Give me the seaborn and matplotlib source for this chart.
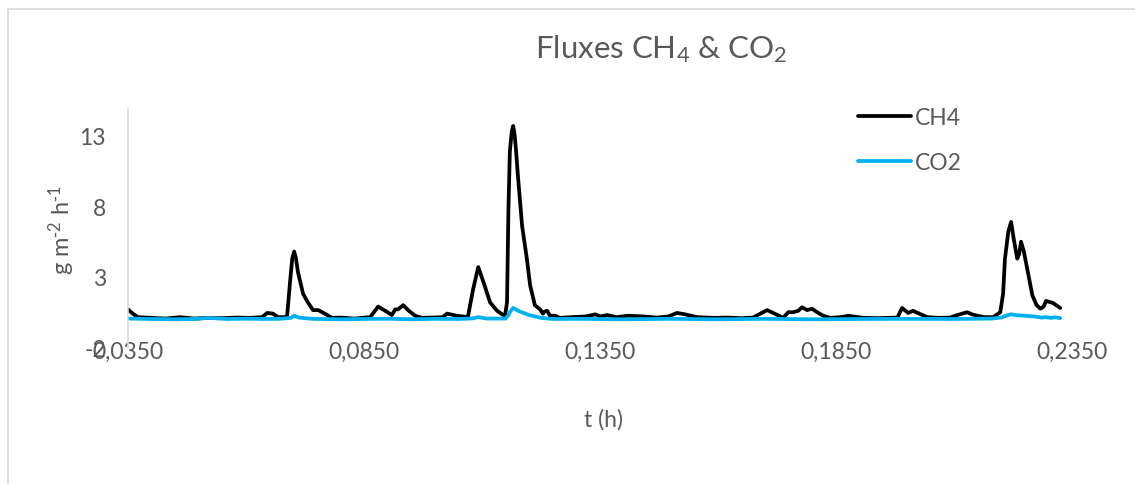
import matplotlib
matplotlib.use("Agg")
import matplotlib.pyplot as plt
from matplotlib.patches import Rectangle
from matplotlib.lines import Line2D
import seaborn as sns
import pandas as pd

# ---- data ----
ch4_t = [0.0350, 0.0360, 0.0371, 0.0400, 0.0430, 0.0460, 0.0490, 0.0520, 0.0550,
         0.0580, 0.0610, 0.0634, 0.0645, 0.0657, 0.0668, 0.0680, 0.0687, 0.0694,
         0.0698, 0.0702, 0.0706, 0.0710, 0.0716, 0.0721, 0.0731, 0.0742, 0.0753,
         0.0767, 0.0782, 0.0800, 0.0830, 0.0863, 0.0880, 0.0895, 0.0909, 0.0916,
         0.0922, 0.0933, 0.0945, 0.0958, 0.0973, 0.0995, 0.1017, 0.1026, 0.1047,
         0.1070, 0.1081, 0.1092, 0.1106, 0.1117, 0.1132, 0.1145, 0.1149, 0.1153,
         0.1156, 0.1159, 0.1163, 0.1166, 0.1169, 0.1172, 0.1176, 0.1185, 0.1195,
         0.1202, 0.1212, 0.1223, 0.1229, 0.1233, 0.1238, 0.1244, 0.1255, 0.1265,
         0.1290, 0.1320, 0.1340, 0.1350, 0.1365, 0.1385, 0.1410, 0.1441, 0.1470,
         0.1495, 0.1513, 0.1530, 0.1556, 0.1590, 0.1620, 0.1650, 0.1674, 0.1704,
         0.1720, 0.1738, 0.1749, 0.1759, 0.1770, 0.1778, 0.1789, 0.1799, 0.1810,
         0.1823, 0.1838, 0.1860, 0.1876, 0.1907, 0.1940, 0.1980, 0.1990, 0.2003,
         0.2013, 0.2043, 0.2070, 0.2092, 0.2107, 0.2128, 0.2138, 0.2149, 0.2165,
         0.2183, 0.2198, 0.2204, 0.2208, 0.2215, 0.2221, 0.2227, 0.2234, 0.2238,
         0.2242, 0.2248, 0.2255, 0.2266, 0.2275, 0.2283, 0.2290, 0.2295, 0.2310,
         0.2325]
ch4_flux = [0.70, 0.40, 0.15, 0.10, 0.05, 0.15, 0.05, 0.10, 0.08,
            0.12, 0.10, 0.15, 0.45, 0.40, 0.15, 0.15, 0.20, 2.90,
            4.30, 4.80, 4.30, 3.35, 2.50, 1.80, 1.20, 0.65, 0.65,
            0.40, 0.10, 0.12, 0.05, 0.15, 0.90, 0.60, 0.30, 0.70,
            0.70, 1.00, 0.60, 0.25, 0.10, 0.12, 0.15, 0.40, 0.25,
            0.15, 2.10, 3.70, 2.35, 1.20, 0.60, 0.30, 0.30, 1.20,
            7.80, 11.90, 13.30, 13.70, 13.10, 12.00, 10.20, 6.60, 4.30,
            2.40, 1.00, 0.70, 0.40, 0.55, 0.60, 0.25, 0.25, 0.10,
            0.15, 0.20, 0.35, 0.20, 0.30, 0.15, 0.25, 0.20, 0.12,
            0.20, 0.45, 0.35, 0.15, 0.10, 0.12, 0.08, 0.12, 0.65,
            0.40, 0.10, 0.50, 0.50, 0.60, 0.85, 0.65, 0.75, 0.50,
            0.25, 0.10, 0.15, 0.25, 0.10, 0.08, 0.12, 0.80, 0.45,
            0.60, 0.15, 0.10, 0.12, 0.30, 0.50, 0.35, 0.25, 0.15,
            0.15, 0.50, 1.80, 4.30, 6.20, 6.90, 5.60, 4.30, 4.60,
            5.50, 4.80, 3.60, 1.70, 1.00, 0.75, 0.90, 1.30, 1.15,
            0.80]

co2_t = [0.0350, 0.0400, 0.0450, 0.0500, 0.0520, 0.0560, 0.0600, 0.0640, 0.0670,
         0.0695, 0.0702, 0.0712, 0.0740, 0.0800, 0.0850, 0.0900, 0.0950, 0.1000,
         0.1050, 0.1080, 0.1092, 0.1110, 0.1150, 0.1156, 0.1160, 0.1166, 0.1180,
         0.1200, 0.1225, 0.1250, 0.1300, 0.1400, 0.1500, 0.1600, 0.1700, 0.1800,
         0.1900, 0.2000, 0.2100, 0.2180, 0.2200, 0.2210, 0.2221, 0.2235, 0.2250,
         0.2270, 0.2285, 0.2295, 0.2305, 0.2315, 0.2325]
co2_flux = [0.05, 0.02, 0.00, 0.03, 0.10, 0.02, 0.04, 0.02, 0.03,
            0.10, 0.25, 0.12, 0.03, 0.00, 0.02, 0.04, 0.00, 0.03,
            0.02, 0.06, 0.15, 0.05, 0.05, 0.30, 0.55, 0.80, 0.55,
            0.30, 0.10, 0.02, 0.03, 0.00, 0.03, 0.00, 0.03, 0.00,
            0.02, 0.03, 0.02, 0.05, 0.12, 0.25, 0.35, 0.28, 0.25,
            0.20, 0.12, 0.15, 0.10, 0.14, 0.08]

x_ticks = [0.035, 0.085, 0.135, 0.185, 0.235]
x_ticklabels = ["0,0350", "0,0850", "0,1350", "0,1850", "0,2350"]
y_ticks = [-2, 3, 8, 13]
y_ticklabels = ["-2", "3", "8", "13"]
series_names = ["CH4", "CO2"]
series_colors = ["#000000", "#00B0F0"]

df = pd.concat([
    pd.DataFrame({"t": ch4_t, "flux": ch4_flux, "series": "CH4"}),
    pd.DataFrame({"t": co2_t, "flux": co2_flux, "series": "CO2"}),
], ignore_index=True)

sns.set_theme(style="white")
plt.rcParams["font.family"] = ["Lato", "DejaVu Sans"]
plt.rcParams["mathtext.default"] = "regular"

W, H = 1135, 485
fig = plt.figure(figsize=(W / 100, H / 100), dpi=100)
ax = fig.add_axes([128 / W, 1 - 348.5 / H, (1072 - 128) / W, (348.5 - 110) / H])

gray = "#595959"
lw = 2.7
sns.lineplot(data=df, x="t", y="flux", hue="series", estimator=None, sort=False,
             palette=dict(zip(series_names, series_colors)), linewidth=lw,
             ax=ax, legend=False)
for ln in ax.get_lines():
    ln.set_solid_joinstyle("round")
    ln.set_solid_capstyle("round")

ax.set_xlim(0.035, 0.235)
ax.set_ylim(-2, 14.9)
ax.set_xticks(x_ticks)
ax.set_xticklabels(x_ticklabels)
ax.set_yticks(y_ticks)
ax.set_yticklabels(y_ticklabels)
ax.tick_params(axis="both", length=0, labelsize=16.5, colors=gray)
ax.tick_params(axis="x", pad=-5)
ax.tick_params(axis="y", pad=16)
ax.set_xlabel("")
ax.set_ylabel("")
for side in ["top", "right", "bottom"]:
    ax.spines[side].set_visible(False)
ax.spines["left"].set_color("#D9D9D9")
ax.spines["left"].set_linewidth(1.2)

fig.text(661 / W, 1 - 58 / H, "Fluxes CH$_4$ & CO$_2$", ha="center", va="baseline",
         fontsize=22.5, color=gray)
fig.text(604 / W, 1 - 420 / H, "t (h)", ha="center", va="center", fontsize=16.5, color=gray)
fig.text(62 / W, 1 - 230 / H, "g m$^{\\text{-}2}$ h$^{\\text{-}1}$", ha="center", va="center",
         rotation=90, fontsize=17, color=gray)

handles = [Line2D([0], [0], color=c, lw=lw) for c in series_colors]
leg = ax.legend(handles, series_names, loc="upper left", frameon=False,
                bbox_to_anchor=(842 / W, 1 - 92 / H), bbox_transform=fig.transFigure,
                fontsize=16.5, handlelength=2.3, handletextpad=0.2, labelspacing=1.05,
                borderpad=0.2)
for txt in leg.get_texts():
    txt.set_color(gray)

fig.patches.append(Rectangle((8 / W, -0.1), 2, 1 - 10 / H + 0.1, transform=fig.transFigure,
                             fill=False, edgecolor="#D9D9D9", linewidth=1.2))

fig.savefig("out.png", dpi=100)
